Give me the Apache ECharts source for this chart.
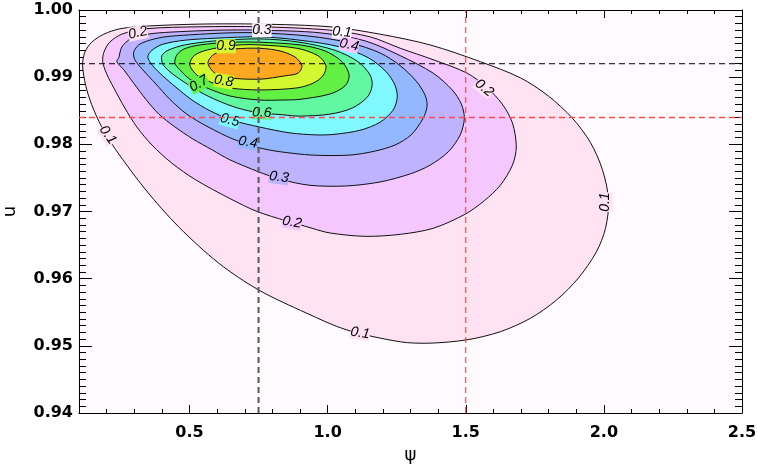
<!DOCTYPE html>
<html><head><meta charset="utf-8">
<script src="https://cdn.jsdelivr.net/npm/echarts@6.0.0/dist/echarts.min.js"></script>
<style>html,body{margin:0;padding:0;background:#fff}#c{width:757px;height:469px}</style>
</head><body><div id="c"></div>
<script>
// contour levels and fill colours (band above each level)
const levels = [0.1, 0.2, 0.3, 0.4, 0.5, 0.6, 0.7, 0.8, 0.9];
const bandColors = ['#ffe3f3', '#f4c8ff', '#bfb2ff', '#94b8ff', '#80f8ff', '#62f8a2', '#62f044', '#d4f830', '#ffa820'];
const outsideColor = '#fffafd';

// contour paths, [psi, u]
const c01 = [[0.113,0.9918],[0.121,0.9937],[0.146,0.9952],[0.190,0.9964],[0.248,0.9972],[0.342,0.9976],[0.538,0.9979],[0.755,0.9979],[1.009,0.9975],[1.190,0.9964],[1.371,0.9948],[1.553,0.9923],[1.698,0.9899],[1.799,0.9872],[1.886,0.9839],[1.951,0.9803],[1.995,0.9762],[2.017,0.9717],[2.006,0.9675],[1.973,0.9640],[1.908,0.9601],[1.828,0.9568],[1.734,0.9541],[1.625,0.9521],[1.505,0.9509],[1.371,0.9504],[1.263,0.9506],[1.067,0.9524],[0.922,0.9549],[0.751,0.9583],[0.606,0.9623],[0.461,0.9677],[0.342,0.9732],[0.233,0.9792],[0.182,0.9826],[0.146,0.9859],[0.124,0.9888]];
const c02 = [[0.186,0.9923],[0.190,0.9937],[0.211,0.9952],[0.255,0.9964],[0.338,0.9972],[0.538,0.9975],[0.755,0.9975],[1.009,0.9970],[1.154,0.9960],[1.263,0.9943],[1.382,0.9926],[1.505,0.9906],[1.578,0.9884],[1.632,0.9860],[1.669,0.9832],[1.683,0.9796],[1.669,0.9769],[1.625,0.9739],[1.567,0.9716],[1.498,0.9696],[1.382,0.9675],[1.263,0.9666],[1.136,0.9663],[1.009,0.9668],[0.944,0.9675],[0.751,0.9699],[0.643,0.9720],[0.523,0.9747],[0.436,0.9772],[0.364,0.9799],[0.309,0.9826],[0.266,0.9854],[0.226,0.9884],[0.200,0.9905]];
const c03 = [[0.237,0.9923],[0.244,0.9929],[0.255,0.9945],[0.287,0.9957],[0.349,0.9964],[0.429,0.9967],[0.610,0.9970],[0.755,0.9970],[0.973,0.9966],[1.136,0.9954],[1.263,0.9932],[1.382,0.9906],[1.451,0.9881],[1.484,0.9860],[1.495,0.9839],[1.480,0.9814],[1.437,0.9789],[1.371,0.9769],[1.299,0.9756],[1.190,0.9744],[1.067,0.9738],[0.936,0.9739],[0.828,0.9748],[0.751,0.9759],[0.646,0.9777],[0.581,0.9792],[0.512,0.9808],[0.447,0.9826],[0.389,0.9845],[0.342,0.9867],[0.298,0.9891],[0.262,0.9911]];
const c04 = [[0.298,0.9937],[0.316,0.9948],[0.356,0.9955],[0.411,0.9960],[0.501,0.9963],[0.646,0.9966],[0.755,0.9966],[0.936,0.9961],[1.081,0.9951],[1.190,0.9936],[1.263,0.9917],[1.321,0.9894],[1.353,0.9873],[1.360,0.9857],[1.346,0.9839],[1.302,0.9814],[1.244,0.9799],[1.172,0.9790],[1.081,0.9784],[0.944,0.9784],[0.828,0.9789],[0.751,0.9795],[0.657,0.9808],[0.567,0.9826],[0.490,0.9845],[0.429,0.9867],[0.378,0.9890],[0.331,0.9911],[0.302,0.9926]];
const c05 = [[0.349,0.9930],[0.364,0.9940],[0.403,0.9949],[0.483,0.9955],[0.592,0.9958],[0.755,0.9960],[0.900,0.9955],[1.045,0.9945],[1.147,0.9929],[1.212,0.9908],[1.244,0.9888],[1.252,0.9870],[1.237,0.9851],[1.190,0.9833],[1.118,0.9821],[1.027,0.9815],[0.962,0.9814],[0.864,0.9817],[0.751,0.9826],[0.654,0.9836],[0.574,0.9850],[0.509,0.9866],[0.451,0.9885],[0.403,0.9902],[0.367,0.9917]];
const c06 = [[0.400,0.9932],[0.422,0.9940],[0.483,0.9948],[0.592,0.9954],[0.755,0.9957],[0.900,0.9952],[1.027,0.9940],[1.110,0.9923],[1.154,0.9903],[1.161,0.9887],[1.143,0.9870],[1.089,0.9854],[1.009,0.9845],[0.900,0.9842],[0.838,0.9844],[0.751,0.9847],[0.675,0.9854],[0.603,0.9865],[0.538,0.9878],[0.476,0.9894],[0.429,0.9908],[0.403,0.9920]];
const c07 = [[0.454,0.9933],[0.480,0.9942],[0.538,0.9948],[0.646,0.9952],[0.755,0.9952],[0.900,0.9948],[0.991,0.9939],[1.052,0.9923],[1.078,0.9903],[1.063,0.9887],[1.009,0.9875],[0.900,0.9867],[0.838,0.9866],[0.751,0.9866],[0.646,0.9872],[0.563,0.9884],[0.501,0.9897],[0.465,0.9911],[0.447,0.9921]];
const c08 = [[0.512,0.9930],[0.538,0.9937],[0.592,0.9943],[0.683,0.9948],[0.755,0.9948],[0.889,0.9943],[0.965,0.9932],[0.994,0.9917],[0.983,0.9902],[0.947,0.9891],[0.889,0.9884],[0.755,0.9881],[0.646,0.9884],[0.574,0.9893],[0.527,0.9903],[0.501,0.9918]];
const c09 = [[0.567,0.9920],[0.577,0.9930],[0.603,0.9937],[0.664,0.9942],[0.755,0.9943],[0.828,0.9939],[0.882,0.9930],[0.907,0.9917],[0.893,0.9906],[0.846,0.9902],[0.755,0.9897],[0.646,0.9899],[0.592,0.9906]];
const contours = [c01, c02, c03, c04, c05, c06, c07, c08, c09];

// contour labels: text, psi, u
const labelText = ['0.2','0.3','0.1','0.4','0.9','0.7','0.8','0.6','0.5','0.4','0.3','0.2','0.1','0.1','0.2','0.1'];
const labelPsi  = [0.313,0.762,1.052,1.078,0.632,0.534,0.624,0.762,0.646,0.712,0.824,0.871,1.118,0.204,1.567,2.006];
const labelU    = [0.9966,0.9970,0.9967,0.9948,0.9946,0.9890,0.9894,0.9847,0.9836,0.9803,0.9751,0.9684,0.9519,0.9814,0.9884,0.9714];
const labelRotDeg = [12,0,-5,-12,0,30,-10,-3,-15,-10,-8,-10,-8,-55,-40,90];
const labelBg = ['#ffe3f3','#fdf0fa','#fffafd','#f4c8ff','#d4f830','#62f044','#d4f830','#62f8a2','#80f8ff','#94b8ff','#bfb2ff','#f4c8ff','#ffe3f3','#ffe3f3','#ffe3f3','#ffe3f3'];

// axis ticks
const xTickLabels = [0.5, 1.0, 1.5, 2.0, 2.5];
const yTickLabels = [0.94, 0.95, 0.96, 0.97, 0.98, 0.99, 1.00];
const xRange = [0.1, 2.5];
const yRange = [0.94, 1.00];

// reference lines
const refPsi = [0.75, 1.5];
const refU = [0.992, 0.984];

const chart = echarts.init(document.getElementById('c'), null, {renderer: 'canvas'});

const tickFont = {fontFamily: 'DejaVu Sans', fontWeight: 'bold', fontSize: 16, color: '#000'};
function axisBase(extra) {
  return Object.assign({
    type: 'value', splitLine: {show: false},
    axisLine: {show: true, onZero: false, lineStyle: {color: '#000', width: 1}},
    axisLabel: {show: false}
  }, extra);
}
const xAxes = [
  axisBase({min: xRange[0], max: xRange[1], position: 'bottom',
    name: 'ψ', nameLocation: 'middle', nameGap: 32,
    nameTextStyle: {fontFamily: 'DejaVu Sans', fontSize: 18, color: '#000'},
    axisTick: {show: true, inside: true, length: 8, customValues: xTickLabels, lineStyle: {color: '#000'}},
    axisLabel: Object.assign({show: true, customValues: xTickLabels, margin: 12, formatter: v => Number(v).toFixed(1)}, tickFont)}),
  axisBase({min: xRange[0], max: xRange[1], interval: 0.1, position: 'bottom', axisLine: {show: false},
    axisTick: {show: true, inside: true, length: 4, lineStyle: {color: '#000'}}}),
  axisBase({min: xRange[0], max: xRange[1], position: 'top',
    axisTick: {show: true, inside: true, length: 8, customValues: xTickLabels, lineStyle: {color: '#000'}}}),
  axisBase({min: xRange[0], max: xRange[1], interval: 0.1, position: 'top', axisLine: {show: false},
    axisTick: {show: true, inside: true, length: 4, lineStyle: {color: '#000'}}})
];
const yAxes = [
  axisBase({min: yRange[0], max: yRange[1], position: 'left',
    name: 'u', nameLocation: 'middle', nameGap: 60, nameRotate: 90,
    nameTextStyle: {fontFamily: 'DejaVu Sans', fontSize: 18, color: '#000'},
    axisTick: {show: true, inside: true, length: 13, customValues: yTickLabels, lineStyle: {color: '#000'}},
    axisLabel: Object.assign({show: true, customValues: yTickLabels, margin: 6, formatter: v => Number(v).toFixed(2)}, tickFont)}),
  axisBase({min: yRange[0], max: yRange[1], interval: 0.001, position: 'left', axisLine: {show: false},
    axisTick: {show: true, inside: true, length: 7, lineStyle: {color: '#000'}}}),
  axisBase({min: yRange[0], max: yRange[1], position: 'right',
    axisTick: {show: true, inside: true, length: 13, customValues: yTickLabels, lineStyle: {color: '#000'}}}),
  axisBase({min: yRange[0], max: yRange[1], interval: 0.001, position: 'right', axisLine: {show: false},
    axisTick: {show: true, inside: true, length: 7, lineStyle: {color: '#000'}}})
];

const series = [];
series.push({
  type: 'custom', coordinateSystem: 'cartesian2d', xAxisIndex: 0, yAxisIndex: 0, z: 1, clip: true,
  data: levels.map((lv, i) => ({value: contours[i][0], name: String(lv)})),
  renderItem: function (params, api) {
    const i = params.dataIndex;
    const pts = contours[i].map(p => api.coord(p));
    return {type: 'polygon', shape: {points: pts, smooth: 0.3},
      style: {fill: bandColors[i], stroke: '#111', lineWidth: 1}};
  }
});
series.push({
  type: 'custom', coordinateSystem: 'cartesian2d', xAxisIndex: 0, yAxisIndex: 0, z: 3,
  data: labelText.map((t, i) => [labelPsi[i], labelU[i]]),
  renderItem: function (params, api) {
    const i = params.dataIndex;
    const p = api.coord([labelPsi[i], labelU[i]]);
    return {type: 'text', x: p[0], y: p[1], rotation: labelRotDeg[i] * Math.PI / 180,
      style: {text: labelText[i], fill: '#000', font: 'italic 14px "Liberation Sans"',
        align: 'center', verticalAlign: 'middle', backgroundColor: labelBg[i], padding: [0, 0]}};
  }
});
const vStyles = [{color: '#5a5a5a', width: 2}, {color: '#ff3030', width: 1}];
refPsi.forEach((v, i) => series.push({
  type: 'line', xAxisIndex: 0, yAxisIndex: 0, z: 4, symbol: 'none', silent: true,
  data: [[v, yRange[0]], [v, yRange[1]]],
  lineStyle: {color: vStyles[i].color, width: vStyles[i].width, type: [6, 4]}
}));
const hStyles = [{color: '#000', width: 1}, {color: '#ff4a4a', width: 1.5}];
refU.forEach((v, i) => series.push({
  type: 'line', xAxisIndex: 0, yAxisIndex: 0, z: 4, symbol: 'none', silent: true,
  data: [[xRange[0], v], [xRange[1], v]],
  lineStyle: {color: hStyles[i].color, width: hStyles[i].width, type: [6, 4]}
}));

chart.setOption({
  animation: false,
  backgroundColor: '#fff',
  grid: {left: 79, right: 15, top: 10, bottom: 56, show: true, backgroundColor: outsideColor, borderWidth: 0, outerBoundsMode: 'none', containLabel: false},
  xAxis: xAxes,
  yAxis: yAxes,
  series: series
});
</script>
</body></html>
